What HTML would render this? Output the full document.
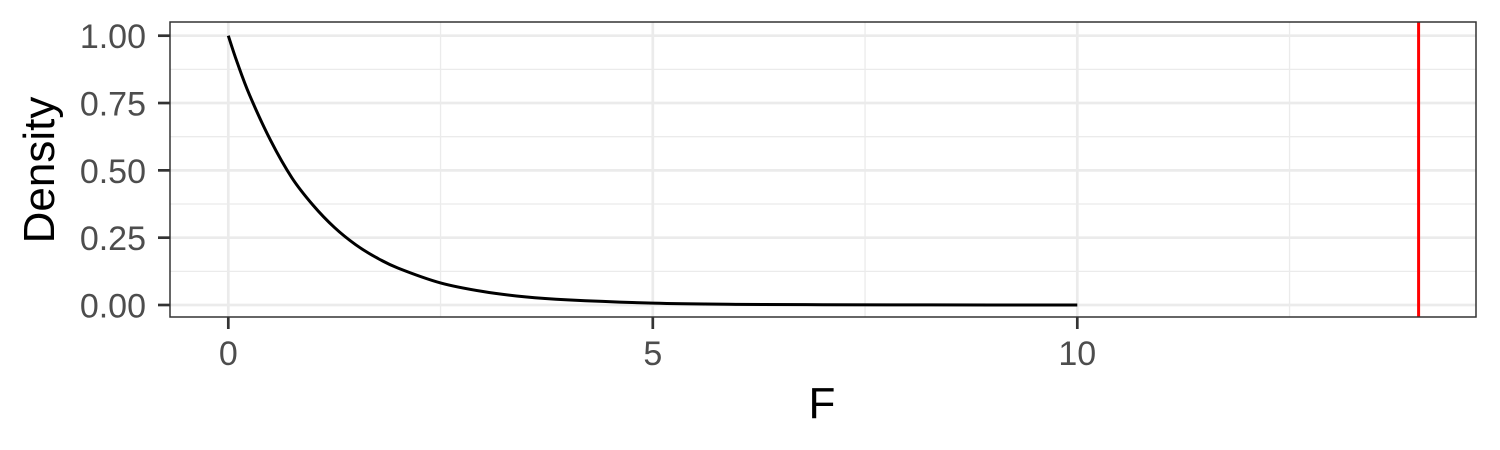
<!DOCTYPE html>
<html><head><meta charset="utf-8"><style>
body{margin:0;background:#fff;}
svg{display:block;font-family:"Liberation Sans",Arial,sans-serif;}
</style></head><body>
<svg id="chart" width="1500" height="450" viewBox="0 0 1500 450"></svg>
<script>
const xs = [0,0.1,0.25,0.5,0.75,1,1.25,1.5,1.75,2,2.5,3,3.5,4,5,6,7,8,9,10];
const ys = [1,0.905,0.78,0.61,0.472,0.37,0.288,0.224,0.175,0.137,0.082,0.05,0.03,0.019,0.007,0.0025,0.001,0.0004,0.00015,0.00005];
const refLine = [14.02];
const xTicks = [0,5,10];
const xMinor = [2.5,7.5,12.5];
const yTicks = [0,0.25,0.5,0.75,1];
const yTickLabels = ["0.00","0.25","0.50","0.75","1.00"];
const yMinor = [0.125,0.375,0.625,0.875];

const L=170,R=1476,T=22,B=317;
const X = v => 228.3 + v*84.9;
const Y = v => 305 - v*269.3;
const svg=document.getElementById('chart');
const NS='http://www.w3.org/2000/svg';
function mk(tag,attrs,parent){const e=document.createElementNS(NS,tag);for(const k in attrs)e.setAttribute(k,attrs[k]);(parent||svg).appendChild(e);return e;}

const bg=mk('rect',{x:L,y:T,width:R-L,height:B-T,fill:'#fff'});


yMinor.forEach(v=>{const l=mk('line',{x1:L,x2:R,y1:Y(v),y2:Y(v),stroke:'#ebebeb','stroke-width':1.3});

});
xMinor.forEach(v=>{const l=mk('line',{x1:X(v),x2:X(v),y1:T,y2:B,stroke:'#ebebeb','stroke-width':1.3});

});
yTicks.forEach((v,i)=>{const l=mk('line',{x1:L,x2:R,y1:Y(v),y2:Y(v),stroke:'#ebebeb','stroke-width':2.7});


const t=mk('line',{x1:L-12,x2:L,y1:Y(v),y2:Y(v),stroke:'#333','stroke-width':2.7});


const tx=mk('text',{x:146,y:Y(v)+12.5,'text-anchor':'end','font-size':34,fill:'#4d4d4d'});tx.textContent=yTickLabels[i];

});
xTicks.forEach(v=>{const l=mk('line',{x1:X(v),x2:X(v),y1:T,y2:B,stroke:'#ebebeb','stroke-width':2.7});


const t=mk('line',{x1:X(v),x2:X(v),y1:B,y2:B+12,stroke:'#333','stroke-width':2.7});


const tx=mk('text',{x:X(v),y:365,'text-anchor':'middle','font-size':34,fill:'#4d4d4d'});tx.textContent=v;

});

const pts=xs.map((x,i)=>[X(x),Y(ys[i])]);
let d='M'+pts[0][0]+','+pts[0][1];
for(let i=0;i<pts.length-1;i++){const p0=pts[Math.max(0,i-1)],p1=pts[i],p2=pts[i+1],p3=pts[Math.min(pts.length-1,i+2)];
d+=' C'+(p1[0]+(p2[0]-p0[0])/6)+','+(p1[1]+(p2[1]-p0[1])/6)+' '+(p2[0]-(p3[0]-p1[0])/6)+','+(p2[1]-(p3[1]-p1[1])/6)+' '+p2[0]+','+p2[1];}
const c=mk('path',{d:d,fill:'none',stroke:'#000','stroke-width':3});



refLine.forEach(v=>{const l=mk('line',{x1:X(v),x2:X(v),y1:T,y2:B,stroke:'#ff0000','stroke-width':3});

});

const border=mk('rect',{x:L,y:T,width:R-L,height:B-T,fill:'none',stroke:'#333','stroke-width':1.5});



const xt=mk('text',{x:822,y:418,'text-anchor':'middle','font-size':44,fill:'#000'});xt.textContent='F';


const yt=mk('text',{x:0,y:0,'text-anchor':'middle','font-size':44,fill:'#000',transform:'translate(54,170) rotate(-90)'});yt.textContent='Density';


</script>
</body></html>
